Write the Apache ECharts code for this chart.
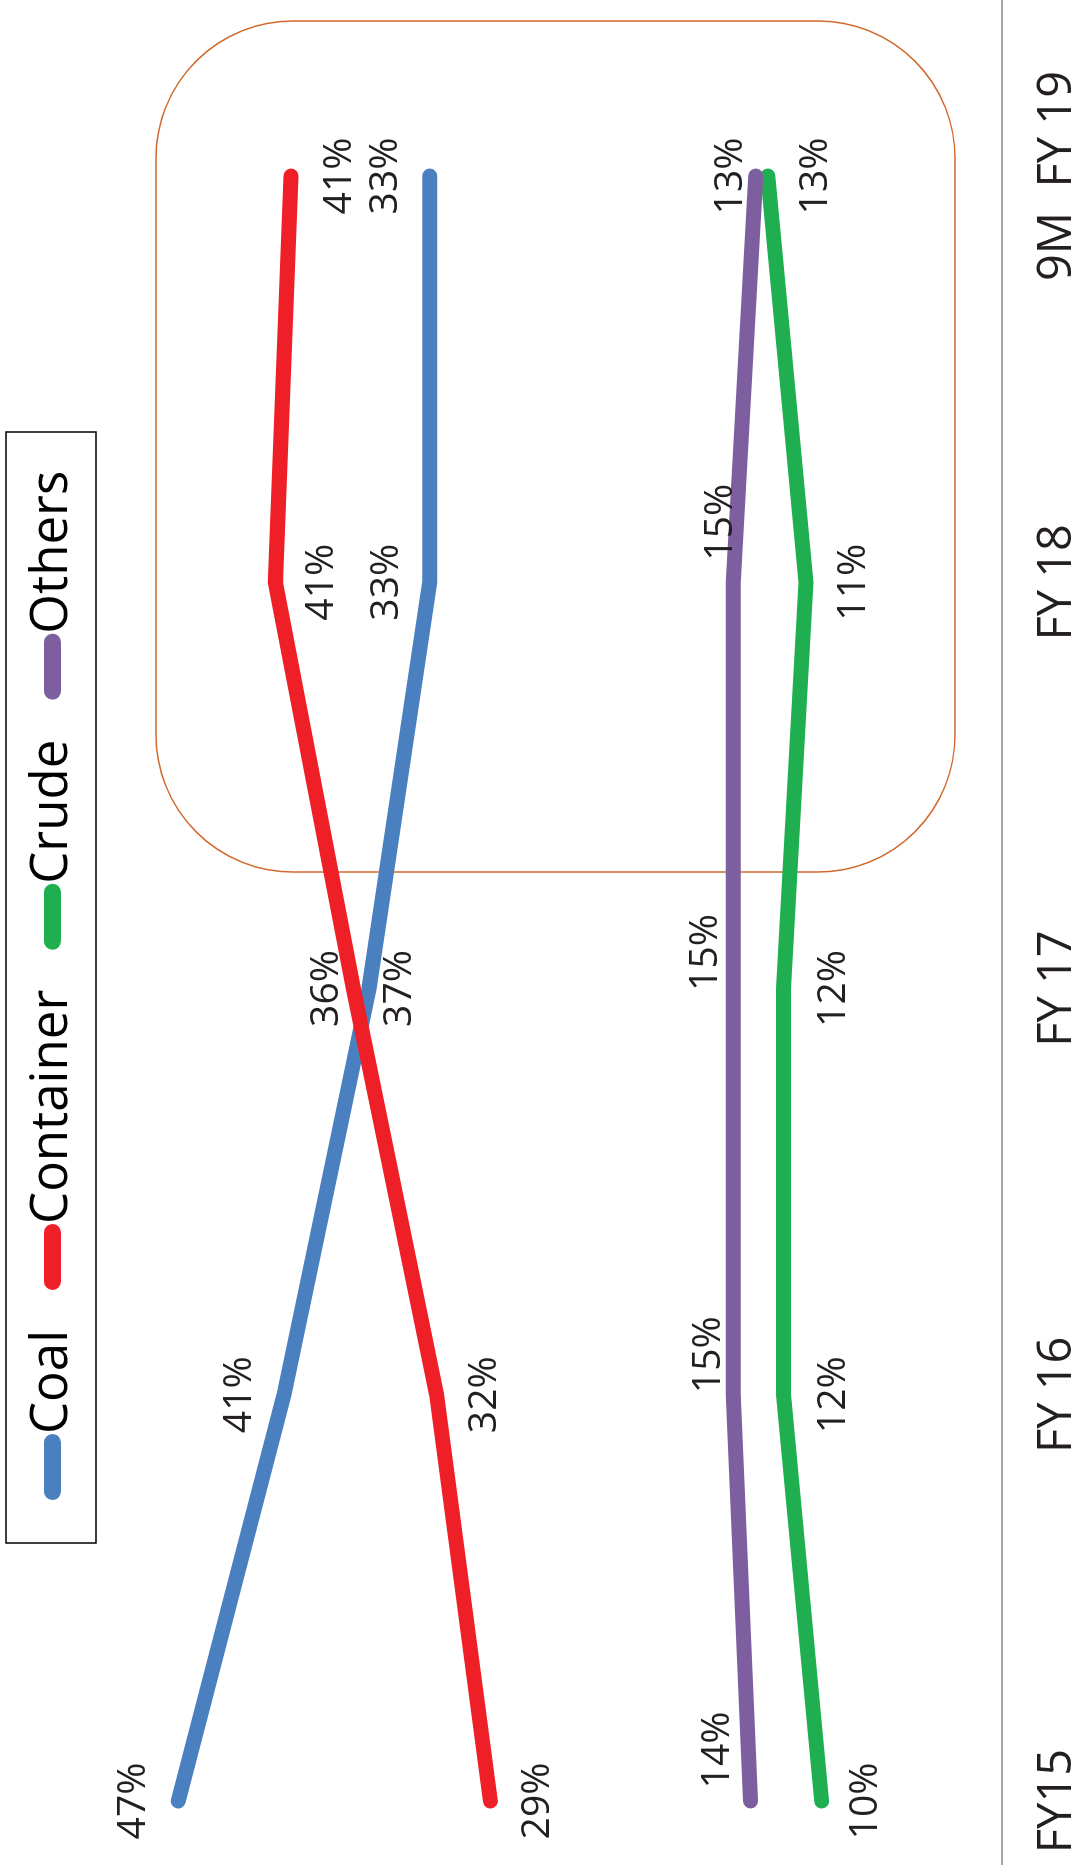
<!DOCTYPE html>
<html>
<head>
<meta charset="utf-8">
<script src="https://cdn.jsdelivr.net/npm/echarts@6/dist/echarts.min.js"></script>
<style>
html,body{margin:0;padding:0;background:#fff;overflow:hidden;width:1081px;height:1865px;}
#chart{position:absolute;left:0;top:0;width:1865px;height:1081px;transform-origin:0 0;transform:translateY(1865px) rotate(-90deg);}
</style>
</head>
<body>
<div id="chart"></div>
<script>
// ---- data ----
const categories = ['FY15', 'FY 16', 'FY 17', 'FY 18', '9M  FY 19'];
const seriesNames = ['Coal', 'Container', 'Crude', 'Others'];
const coal      = [47.1, 41.0, 36.1, 32.6, 32.6];
const container = [29.1, 32.2, 37.0, 41.5, 40.6];
const crude     = [10.0, 12.2, 12.2, 10.9, 13.1];
const others    = [14.1, 15.1, 15.1, 15.1, 13.8];
const coalLabels      = ['47%', '41%', '37%', '33%', '33%'];
const containerLabels = ['29%', '32%', '36%', '41%', '41%'];
const crudeLabels     = ['10%', '12%', '12%', '11%', '13%'];
const othersLabels    = ['14%', '15%', '15%', '15%', '13%'];

// ---- layout / style ----
const colors = ['#4A80C0', '#EE1F26', '#1FAF51', '#7D5FA0'];
const labelOffsets = [
  [[0,-44],[0,-44],[0,31],[0,-43],[0,-44]],
  [[0,47],[0,48],[0,-27],[0,47],[0,49]],
  [[0,44],[0,50],[0,50],[0,48],[0,48]],
  [[51,-33],[40,-24],[36,-27],[60,-12],[0,-25]]
];
const FONT = '"Open Sans", "DejaVu Sans", sans-serif';
const TXT = '#231F20';

const allValues = [coal, container, crude, others];
const allLabels = [coalLabels, containerLabels, crudeLabels, othersLabels];

const chart = echarts.init(document.getElementById('chart'), null, {renderer: 'canvas'});

const series = seriesNames.map((name, si) => ({
  name: name,
  type: 'line',
  data: allValues[si].map((v, i) => ({
    value: v,
    label: {offset: labelOffsets[si][i]}
  })),
  symbol: 'circle',
  symbolSize: 1,
  showSymbol: true,
  color: colors[si],
  lineStyle: {width: 15, color: colors[si], cap: 'round', join: 'miter'},
  itemStyle: {color: colors[si]},
  label: {
    show: true,
    position: 'inside',
    fontFamily: FONT,
    fontSize: 39,
    color: TXT,
    formatter: p => allLabels[si][p.dataIndex]
  },
  emphasis: {disabled: true},
  z: 2 + si
}));

const capsule = 'path://M8.5,0 L57.5,0 A8.5,8.5 0 0 1 57.5,17 L8.5,17 A8.5,8.5 0 0 1 8.5,0 Z';

chart.setOption({
  animation: false,
  backgroundColor: '#fff',
  grid: {left: 64, right: 176, top: 128, bottom: 79, containLabel: false},
  legend: {
    data: seriesNames,
    left: 365,
    top: 27,
    padding: 0,
    itemGap: 40,
    itemWidth: 66,
    itemHeight: 17,
    icon: capsule,
    selectedMode: false,
    textStyle: {fontFamily: FONT, fontSize: 51, color: '#000', padding: [0,0,0,-5]}
  },
  xAxis: {
    type: 'category',
    data: categories,
    boundaryGap: false,
    axisLine: {show: false},
    axisTick: {show: false},
    splitLine: {show: false},
    axisLabel: {
      interval: 0,
      margin: 39,
      fontFamily: FONT,
      fontSize: 47,
      color: TXT
    }
  },
  yAxis: {
    type: 'value',
    min: 0,
    max: 50,
    show: false,
    splitLine: {show: false}
  },
  graphic: [
    {type: 'line', z: 1, shape: {x1: 0, y1: 1002, x2: 1865, y2: 1002}, style: {stroke: '#A6A6A6', lineWidth: 2}},
    {type: 'rect', z: 0, shape: {x: 993, y: 156, width: 851, height: 799, r: 137}, style: {fill: 'none', stroke: '#D2692E', lineWidth: 1.5}},
    {type: 'rect', z: 0, shape: {x: 322, y: 6, width: 1111, height: 90}, style: {fill: 'none', stroke: '#000', lineWidth: 1.5}}
  ],
  series: series
});
</script>
</body>
</html>
